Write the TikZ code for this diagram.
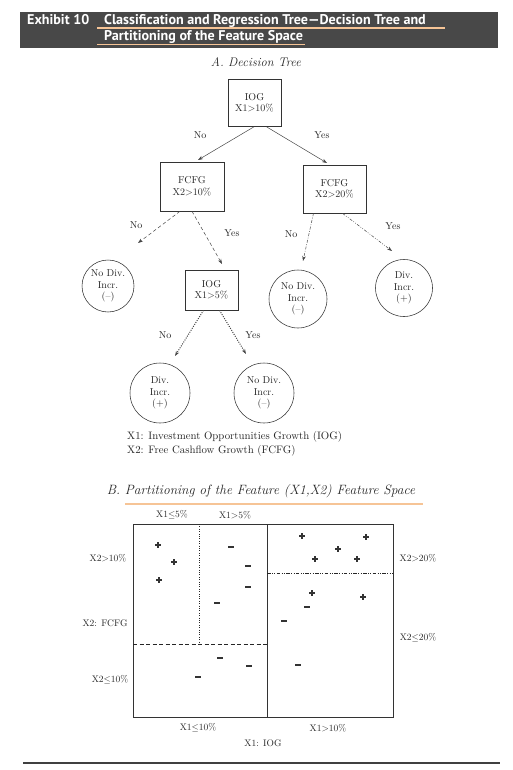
\documentclass[tikz,border=0pt]{standalone}
\usepackage{fontspec}
\newfontfamily\hdrfont{PT Sans}
\usetikzlibrary{arrows.meta}
\definecolor{hdrgray}{RGB}{72,72,72}
\definecolor{peach}{RGB}{246,196,150}
\definecolor{linegray}{RGB}{70,70,70}
\tikzset{
  treetext/.style={font=\fontsize{10}{11.5}\selectfont, align=center, text=black!85},
  boxnode/.style={treetext, draw=black!80, line width=0.6pt, inner sep=0pt},
  circnode/.style={treetext, draw=black!80, line width=0.55pt, circle, inner sep=0pt},
  arr/.style={draw=linegray, line width=0.5pt, -{Stealth[length=5pt,width=3.5pt]}},
  lbl/.style={font=\fontsize{10}{11}\selectfont, text=black!85},
  axlbl/.style={font=\fontsize{9.5}{11}\selectfont, text=black!85},
  hdr/.style={anchor=base west, text=white, font=\hdrfont\bfseries\fontsize{14.1}{14}\selectfont, inner sep=0pt},
  pics/plusm/.style={code={\draw[black!80, line width=1.5pt] (-3,0) -- (3,0) (0,-3) -- (0,3);}},
  pics/minusm/.style={code={\draw[black!80, line width=1.5pt] (-3,0) -- (3,0);}},
}
\begin{document}
\begin{tikzpicture}[x=1pt,y=-1pt]
\useasboundingbox (0,0) rectangle (513,770);
% header
\fill[hdrgray] (20,12) rectangle (498,48);
\node[hdr] (exh) at (27,25) {Exhibit 10};
\node[hdr] (ttl1) at (104,25) {Classification and Regression Tree—Decision Tree and};
\node[hdr] (ttl2) at (104,41) {Partitioning of the Feature Space};
\draw[peach, line width=1.3pt] (97,28) -- (445,28);
\draw[peach, line width=1.3pt] (97,44.5) -- (305,44.5);
% section A
\node[font=\itshape\fontsize{12.5}{14}\selectfont, text=black!85] (secA) at (256,62) {A. Decision Tree};
\node[boxnode, minimum width=53pt, minimum height=47pt] (root) at (254.5,103) {IOG\\X1>10\%};
\node[boxnode, minimum width=64pt, minimum height=49pt] (fl) at (192,186.5) {FCFG\\X2>10\%};
\node[boxnode, minimum width=63pt, minimum height=48pt] (fr) at (334.5,189) {FCFG\\X2>20\%};
\node[boxnode, minimum width=53pt, minimum height=40pt] (iog2) at (211.5,290) {IOG\\X1>5\%};
\node[circnode, minimum size=52pt] (ndl) at (108,286) {No Div.\\Incr.\\(--)};
\node[circnode, minimum size=58pt] (ndr) at (298,299) {No Div.\\Incr.\\(--)};
\node[circnode, minimum size=57pt] (dir) at (404,288) {Div.\\Incr.\\(+)};
\node[circnode, minimum size=60pt] (dbl) at (160,393) {Div.\\Incr.\\(+)};
\node[circnode, minimum size=60pt] (ndb) at (264,393) {No Div.\\Incr.\\(--)};
% arrow end points
\coordinate (e1) at (198,160);
\coordinate (e2) at (327,163);
\coordinate (e3) at (138,243);
\coordinate (e4) at (222,264);
\coordinate (e5) at (303,261);
\coordinate (e6) at (392,251);
\coordinate (e7) at (175,356);
\coordinate (e8) at (246,354);
\draw[arr] ([xshift=-0.5pt]root.south) -- (e1);
\draw[arr] ([xshift=12pt]root.south) -- (e2);
\draw[arr, dash pattern=on 3.5pt off 2.5pt] ([xshift=-12pt]fl.south) -- (e3);
\draw[arr, dash pattern=on 3.5pt off 2.5pt] ([xshift=0pt]fl.south) -- (e4);
\draw[arr, dash pattern=on 3pt off 1.5pt on 0.8pt off 1.5pt] ([xshift=-21pt]fr.south) -- (e5);
\draw[arr, dash pattern=on 3pt off 1.5pt on 0.8pt off 1.5pt on 0.8pt off 1.5pt] ([xshift=8pt]fr.south) -- (e6);
\draw[arr, line width=1pt, dash pattern=on 1pt off 1.3pt] ([xshift=-8pt]iog2.south) -- (e7);
\draw[arr, line width=1pt, dash pattern=on 1pt off 1.3pt] ([xshift=8pt]iog2.south) -- (e8);
\node[lbl] (l1) at (200,135) {No};
\node[lbl] (l2) at (322,135) {Yes};
\node[lbl] (l3) at (136,225) {No};
\node[lbl] (l4) at (232,233) {Yes};
\node[lbl] (l5) at (291,234) {No};
\node[lbl] (l6) at (393,226) {Yes};
\node[lbl] (l7) at (165,335) {No};
\node[lbl] (l8) at (253,335) {Yes};
\node[anchor=west, align=left, font=\fontsize{10.8}{14.5}\selectfont, text=black!85, inner sep=0pt] (legend) at (127,444) {X1: Investment Opportunities Growth (IOG)\\X2: Free Cashflow Growth (FCFG)};
% section B
\node[font=\itshape\fontsize{13.5}{15}\selectfont, text=black!85] (secB) at (261,491) {B. Partitioning of the Feature (X1,X2) Feature Space};
\draw[peach, line width=1.6pt] (125,504) -- (423,504);
\draw[black!80, line width=0.6pt] (133,524) rectangle (393,717);
\draw[black!80, line width=0.6pt] (267,524) -- (267,717);
\draw[black!85, line width=1pt, dash pattern=on 1pt off 1.4pt] (199,524) -- (199,644);
\draw[black!85, line width=0.7pt, dash pattern=on 4pt off 2.5pt] (133,644) -- (267,644);
\draw[black!85, line width=0.6pt, dash pattern=on 3.5pt off 1.5pt on 0.8pt off 1.5pt on 0.8pt off 1.5pt] (267,573) -- (393,573);
\node[axlbl] (t1) at (172,515) {X1$\leq$5\%};
\node[axlbl] (t2) at (235,515) {X1>5\%};
\node[axlbl] (t3) at (108,558) {X2>10\%};
\node[axlbl] (t4) at (418,558) {X2>20\%};
\node[axlbl] (t5) at (105,623) {X2: FCFG};
\node[axlbl] (t6) at (418,638) {X2$\leq$20\%};
\node[axlbl] (t7) at (110,680) {X2$\leq$10\%};
\node[axlbl] (t8) at (198,728) {X1$\leq$10\%};
\node[axlbl] (t9) at (328,728) {X1>10\%};
\node[axlbl] (t10) at (263,743) {X1: IOG};
% markers
\foreach \px/\py in {158/545, 174/562, 159/580, 302/536, 366/537, 338/549, 315/559, 357/559, 312/593, 363/597}
  \pic at (\px,\py) {plusm};
\foreach \mx/\my in {231/547, 248/566, 248/587, 217/603, 307/607, 284/621, 220/658, 249/666, 198/677, 298/665}
  \pic at (\mx,\my) {minusm};
% bottom rule
\draw[black!75, line width=1.5pt] (23,763) -- (500,763);
\end{tikzpicture}
\end{document}
